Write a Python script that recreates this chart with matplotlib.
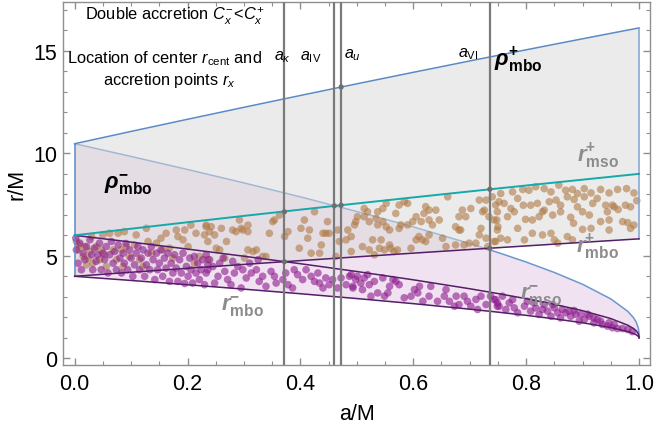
import matplotlib
matplotlib.use("Agg")
import matplotlib.pyplot as plt
from matplotlib.ticker import MultipleLocator

plt.rcParams['font.family'] = ['Liberation Sans', 'DejaVu Sans']
plt.rcParams['mathtext.fontset'] = 'custom'
plt.rcParams['mathtext.rm'] = 'Liberation Sans'
plt.rcParams['mathtext.it'] = 'Liberation Sans:italic'
plt.rcParams['mathtext.bf'] = 'Liberation Sans:bold'
try:
    plt.rcParams['mathtext.bfit'] = 'Liberation Sans:bold:italic'
except Exception:
    pass

# ---------------- data ----------------
spin = [0, .1, .2, .3, .4, .5, .6, .7, .75, .8, .85, .9, .95, .98, .99, .995, .999, .9999, 1]
r_mbo_minus = [4.0, 3.797, 3.589, 3.373, 3.149, 2.914, 2.665, 2.395, 2.25, 2.094, 1.925, 1.732,
               1.497, 1.303, 1.21, 1.146, 1.064, 1.020, 1.0]
r_mbo_plus = [4.0, 4.198, 4.391, 4.580, 4.766, 4.949, 5.130, 5.308, 5.396, 5.483, 5.570, 5.657,
              5.743, 5.794, 5.811, 5.820, 5.827, 5.828, 5.828]
r_mso_minus = [6.0, 5.670, 5.329, 4.979, 4.614, 4.233, 3.829, 3.393, 3.158, 2.907, 2.633, 2.321,
               1.937, 1.614, 1.455, 1.341, 1.182, 1.079, 1.0]
r_mso_plus = [6.0, 6.323, 6.639, 6.949, 7.254, 7.555, 7.851, 8.143, 8.288, 8.432, 8.575, 8.717,
              8.859, 8.944, 8.972, 8.986, 8.997, 9.0, 9.0]
rho_mbo_minus = [10.472, 9.85, 9.214, 8.558, 7.877, 7.164, 6.412, 5.600, 5.163, 4.697, 4.187, 3.61,
                 2.897, 2.292, 1.99, 1.77, 1.452, 1.23, 1.0]
rho_mbo_plus = [10.472, 11.073, 11.665, 12.250, 12.827, 13.396, 13.957, 14.511, 14.785, 15.056,
                15.326, 15.594, 15.860, 16.019, 16.071, 16.098, 16.119, 16.124, 16.124]

# special spins (vertical lines) and their labels
special_a = [0.3717, 0.4602, 0.4722, 0.7357]
special_lbl = [r"$a_\kappa$", r"$a_{\mathrm{IV}}$", r"$a_u$", r"$a_{\mathrm{VI}}$"]
# marked points on the curves
mark_a = [0.3717, 0.3717, 0.4602, 0.4722, 0.4722, 0.7357, 0.7357]
mark_r = [4.71, 7.15, 7.44, 7.47, 13.24, 8.25, 5.37]

# accretion points, counter-rotating (brown)
brown_a = [0.755, 0.776, 0.794, 0.805, 0.817, 0.832, 0.844, 0.858, 0.870, 0.882, 0.891, 0.903, 0.915,
           0.932, 0.947, 0.962, 0.978, 0.991, 0.752, 0.761, 0.773, 0.785, 0.795, 0.808, 0.820, 0.829,
           0.841, 0.853, 0.861, 0.873, 0.885, 0.891, 0.903, 0.918, 0.926, 0.941, 0.953, 0.963, 0.976,
           0.985, 0.996, 0.749, 0.748, 0.767, 0.779, 0.799, 0.811, 0.823, 0.832, 0.847, 0.861, 0.879,
           0.884, 0.900, 0.912, 0.932, 0.944, 0.947, 0.956, 0.971, 0.980, 0.991, 0.750, 0.755, 0.746,
           0.767, 0.785, 0.797, 0.811, 0.829, 0.844, 0.850, 0.856, 0.873, 0.882, 0.900, 0.915, 0.947,
           0.985,
           0.513, 0.519, 0.537, 0.546, 0.552, 0.575, 0.584, 0.590, 0.622, 0.628, 0.640, 0.661, 0.687,
           0.702, 0.717, 0.726, 0.729, 0.740, 0.746, 0.498, 0.501, 0.513, 0.522, 0.534, 0.537, 0.546,
           0.552, 0.558, 0.569, 0.575, 0.578, 0.590, 0.599, 0.605, 0.614, 0.619, 0.628, 0.634, 0.646,
           0.675, 0.681, 0.681, 0.693, 0.720, 0.723, 0.734, 0.743, 0.490, 0.496, 0.510, 0.522, 0.528,
           0.531, 0.540, 0.543, 0.549, 0.558, 0.560, 0.566, 0.572, 0.596, 0.605, 0.610, 0.616, 0.622,
           0.628, 0.652, 0.658, 0.675, 0.684, 0.690, 0.699, 0.711, 0.717, 0.729, 0.732, 0.743, 0.749,
           0.233, 0.239, 0.242, 0.248, 0.251, 0.260, 0.269, 0.280, 0.286, 0.292, 0.295, 0.298, 0.307,
           0.307, 0.316, 0.322, 0.333, 0.339, 0.345, 0.351, 0.354, 0.363, 0.372, 0.378, 0.398, 0.401,
           0.407, 0.413, 0.416, 0.419, 0.425, 0.434, 0.437, 0.440, 0.445, 0.448, 0.451, 0.463, 0.466,
           0.469, 0.481, 0.484, 0.490, 0.236, 0.266, 0.301, 0.307, 0.257,
           0.003, 0.006, 0.009, 0.015, 0.018, 0.024, 0.027, 0.030, 0.038, 0.044, 0.050, 0.053, 0.056,
           0.062, 0.068, 0.074, 0.077, 0.083, 0.086, 0.091, 0.097, 0.106, 0.115, 0.121, 0.130, 0.136,
           0.145, 0.153, 0.156, 0.168, 0.174, 0.180, 0.183, 0.192, 0.201, 0.206, 0.212, 0.215, 0.221,
           0.230, 0.233, 0.236, 0.021, 0.047, 0.109, 0.088, 0.127, 0.162, 0.195, 0.032]
brown_r = [8.04, 8.12, 8.24, 8.20, 8.37, 8.28, 8.12, 8.45, 8.20, 8.24, 8.04, 8.28, 8.07,
           8.24, 8.07, 8.24, 8.28, 8.07, 7.64, 7.56, 7.31, 7.80, 7.47, 7.47, 7.56, 7.15,
           7.64, 7.72, 7.47, 7.88, 7.75, 7.39, 7.88, 7.56, 7.80, 7.47, 7.47, 7.26, 7.47,
           7.39, 7.69, 7.15, 6.75, 6.91, 7.15, 6.78, 6.75, 6.91, 7.23, 6.99, 7.15, 6.88,
           6.59, 7.15, 6.99, 6.67, 7.15, 6.75, 7.39, 6.67, 6.62, 6.50, 6.42, 5.86, 5.70,
           5.78, 6.34, 5.78, 6.10, 6.02, 6.10, 5.78, 5.62, 5.94, 5.78, 6.29, 6.34, 6.26,
           6.34,
           7.31, 7.15, 7.15, 7.31, 7.56, 7.48, 7.64, 7.56, 7.40, 7.23, 7.23, 7.88, 7.23,
           7.31, 7.72, 7.23, 7.72, 7.88, 7.48, 6.67, 6.91, 6.91, 6.67, 6.83, 6.51, 6.67,
           6.42, 6.26, 7.07, 6.34, 6.51, 6.51, 6.67, 6.91, 6.67, 7.07, 6.75, 6.51, 6.75,
           6.42, 6.26, 6.91, 6.91, 6.34, 7.15, 6.91, 6.75, 5.94, 6.51, 5.45, 5.29, 5.78,
           5.05, 5.37, 5.78, 5.29, 5.53, 5.37, 5.21, 5.29, 5.37, 5.78, 5.94, 5.78, 5.70,
           6.02, 5.86, 5.45, 5.53, 6.26, 5.53, 5.62, 5.62, 6.02, 5.86, 5.45, 5.70, 6.26,
           6.50, 6.18, 6.42, 6.02, 5.37, 6.34, 5.70, 6.26, 6.18, 6.75, 6.34, 6.26, 6.50,
           6.18, 5.21, 5.29, 4.97, 4.97, 6.10, 6.67, 6.75, 6.99, 5.94, 6.18, 5.37, 6.34,
           6.75, 5.86, 6.26, 5.13, 7.15, 5.13, 5.53, 6.10, 6.10, 6.67, 6.10, 4.97, 6.26,
           5.70, 5.78, 6.26, 5.21, 4.81, 4.89, 4.89, 5.29, 5.29,
           5.70, 5.29, 5.53, 4.97, 5.45, 4.89, 5.21, 5.94, 5.45, 4.81, 6.02, 5.05, 4.48,
           6.10, 5.29, 4.81, 6.10, 5.29, 4.48, 5.45, 4.97, 5.53, 4.81, 4.48, 5.70, 5.13,
           5.62, 5.86, 5.29, 5.37, 4.89, 6.26, 5.94, 5.78, 5.45, 6.50, 4.64, 6.10, 4.97,
           6.02, 6.42, 5.70, 4.56, 5.29, 6.02, 6.18, 6.34, 6.10, 6.26, 4.64]

# accretion points, co-rotating (purple)
purple_a = [0.746, 0.752, 0.758, 0.764, 0.770, 0.779, 0.785, 0.797, 0.802, 0.808, 0.817, 0.823, 0.832,
            0.838, 0.844, 0.850, 0.856, 0.861, 0.870, 0.879, 0.888, 0.894, 0.903, 0.912, 0.920, 0.926,
            0.935, 0.944, 0.953, 0.962, 0.971, 0.980, 0.988, 0.776, 0.814, 0.829, 0.847, 0.864, 0.876,
            0.885, 0.897, 0.909, 0.920, 0.932, 0.947, 0.956, 0.749,
            0.490, 0.493, 0.498, 0.501, 0.507, 0.510, 0.513, 0.519, 0.522, 0.525, 0.531, 0.537, 0.546,
            0.549, 0.555, 0.558, 0.564, 0.569, 0.575, 0.584, 0.596, 0.602, 0.608, 0.611, 0.617, 0.628,
            0.631, 0.643, 0.655, 0.658, 0.664, 0.673, 0.676, 0.681, 0.690, 0.696, 0.702, 0.711, 0.714,
            0.720, 0.729, 0.737, 0.743, 0.749,
            0.233, 0.239, 0.236, 0.245, 0.254, 0.257, 0.263, 0.266, 0.271, 0.277, 0.283, 0.289, 0.298,
            0.304, 0.310, 0.313, 0.322, 0.327, 0.333, 0.339, 0.348, 0.354, 0.357, 0.369, 0.374, 0.378,
            0.386, 0.389, 0.395, 0.404, 0.410, 0.419, 0.425, 0.431, 0.434, 0.440, 0.445, 0.451, 0.457,
            0.466, 0.472, 0.481, 0.487, 0.493, 0.280, 0.325, 0.248, 0.295,
            0.002, 0.003, 0.006, 0.009, 0.012, 0.015, 0.018, 0.021, 0.027, 0.030, 0.032, 0.035, 0.038,
            0.041, 0.044, 0.047, 0.050, 0.053, 0.056, 0.059, 0.062, 0.065, 0.068, 0.071, 0.074, 0.077,
            0.080, 0.083, 0.086, 0.088, 0.091, 0.094, 0.097, 0.100, 0.103, 0.106, 0.109, 0.112, 0.115,
            0.118, 0.121, 0.124, 0.127, 0.130, 0.133, 0.136, 0.139, 0.142, 0.145, 0.147, 0.150, 0.153,
            0.156, 0.159, 0.162, 0.165, 0.168, 0.171, 0.174, 0.177, 0.180, 0.183, 0.186, 0.189, 0.192,
            0.195, 0.198, 0.201, 0.204, 0.206, 0.209, 0.212, 0.215, 0.218, 0.221, 0.224, 0.227, 0.230,
            0.233, 0.236]
purple_r = [2.86, 2.54, 3.03, 2.38, 2.70, 2.46, 2.22, 2.54, 2.78, 2.30, 2.46, 2.14, 2.62,
            2.30, 2.05, 2.46, 2.22, 1.97, 2.22, 2.05, 2.14, 1.81, 1.89, 2.05, 1.73, 1.89,
            1.65, 1.57, 1.49, 1.45, 1.45, 1.40, 1.30, 2.86, 2.70, 2.38, 2.62, 2.38, 2.30,
            2.33, 2.14, 2.15, 1.97, 1.81, 1.73, 1.65, 2.70,
            4.08, 3.43, 3.84, 4.00, 3.67, 3.35, 3.92, 4.08, 3.59, 3.03, 3.75, 3.19, 3.92,
            3.03, 3.19, 3.51, 3.84, 3.75, 3.59, 2.95, 3.03, 3.35, 3.19, 3.51, 2.78, 3.03,
            3.51, 2.78, 3.03, 3.35, 2.78, 2.54, 3.03, 2.62, 3.03, 2.78, 2.54, 2.87, 2.38,
            3.03, 2.62, 3.03, 2.87, 2.54,
            5.05, 4.81, 4.32, 4.48, 4.00, 4.64, 4.89, 4.24, 3.84, 3.59, 4.16, 4.48, 4.32,
            3.92, 4.64, 4.16, 4.32, 3.75, 4.00, 3.51, 4.24, 4.00, 3.67, 3.84, 4.16, 3.59,
            3.43, 4.32, 4.08, 3.84, 4.32, 4.00, 3.75, 4.16, 3.67, 3.43, 3.92, 3.59, 3.84,
            3.43, 3.92, 3.59, 4.00, 3.51, 4.73, 4.81, 3.67, 3.43,
            5.86, 5.29, 4.64, 5.62, 4.32, 5.13, 4.81, 5.45, 5.78, 5.05, 4.32, 5.37, 4.73,
            5.05, 5.62, 4.32, 5.13, 4.81, 5.45, 4.16, 5.05, 5.70, 4.64, 5.21, 4.32, 5.53,
            4.89, 4.16, 5.13, 4.64, 5.60, 4.32, 5.29, 4.89, 4.00, 4.56, 5.13, 5.45, 4.32,
            4.89, 5.29, 4.00, 4.56, 5.13, 4.32, 5.45, 4.81, 3.84, 5.13, 4.32, 4.64, 5.29,
            4.00, 4.89, 4.40, 5.13, 3.75, 4.64, 4.16, 5.05, 4.40, 3.75, 4.81, 4.16, 5.13,
            3.65, 4.48, 4.00, 4.89, 4.32, 3.67, 4.97, 4.16, 4.64, 3.84, 4.32, 4.81, 3.59,
            4.16, 4.56]

# ---------------- figure ----------------
fig = plt.figure(figsize=(6.55, 4.35), dpi=100)
ax = fig.add_axes([63 / 655, 1 - 366 / 435, (650 - 63) / 655, (366 - 3) / 435])

pink = '#f1e2f1'
ax.fill_between(spin, r_mbo_minus, rho_mbo_minus, color=pink, lw=0, zorder=1)
ax.plot(spin, rho_mbo_minus, color='#6b98cc', lw=1.1, zorder=1.5)
ax.fill_between(spin, r_mbo_plus, rho_mbo_plus, color='#d9d9d9', alpha=0.5, lw=0, zorder=2)

ax.scatter(brown_a, brown_r, s=30, color='#b07a45', alpha=0.6, edgecolors='none', zorder=3)
ax.scatter(purple_a, purple_r, s=30, color='#8e1a8e', alpha=0.6, edgecolors='none', zorder=3)

blue = '#5b8ac4'
ax.plot(spin, rho_mbo_plus, color=blue, lw=1.1, zorder=4)
ax.plot([spin[0], spin[0]], [r_mbo_minus[0], rho_mbo_minus[0]], color=blue, lw=1.1, zorder=4)
ax.plot([spin[-1], spin[-1]], [r_mbo_plus[-1], rho_mbo_plus[-1]], color='#7fa3d3', lw=1.1, zorder=4)

purple_line = '#561d68'
ax.plot(spin, r_mbo_minus, color=purple_line, lw=1.1, zorder=4)
ax.plot(spin, r_mbo_plus, color=purple_line, lw=1.1, zorder=4)
ax.plot(spin, r_mso_minus, color=purple_line, lw=1.1, zorder=4)
ax.plot(spin, r_mso_plus, color='#17a9a9', lw=1.4, zorder=4)

for xa in special_a:
    ax.axvline(xa, color='#7a7a7a', lw=1.6, zorder=5)
ax.scatter(mark_a, mark_r, s=14, color='#6e6e6e', zorder=6, edgecolors='none')

# label texts
lab_y = [14.76, 14.76, 14.85, 14.9]
lab_x = [0.368, 0.418, 0.493, 0.698]
for lx, ly, t in zip(lab_x, lab_y, special_lbl):
    ax.text(lx, ly, t, fontsize=11.5, ha='center', va='center', zorder=7)

ax.text(0.178, 16.72, r"Double accretion $C_x^{-}\!<\!C_x^{+}$", fontsize=11.8,
        ha='center', va='center', zorder=7)
ax.text(0.159, 14.66, r"Location of center $r_{\mathrm{cent}}$ and", fontsize=11.8,
        ha='center', va='center', zorder=7)
ax.text(0.167, 13.62, r"accretion points $r_x$", fontsize=11.8,
        ha='center', va='center', zorder=7)

ax.text(0.786, 14.6, r"$\mathbfit{\rho}^{\mathbf{+}}_{\mathbf{mbo}}$", fontsize=16,
        ha='center', va='center', zorder=7)
ax.text(0.094, 8.5, r"$\mathbfit{\rho}^{\mathbf{-}}_{\mathbf{mbo}}$", fontsize=16,
        ha='center', va='center', zorder=7)

gcol = '#8c8c8c'
ax.text(0.927, 9.9, r"$\mathbfit{r}^{\mathbf{+}}_{\mathbf{mso}}$", fontsize=16, color=gcol,
        ha='center', va='center', zorder=7)
ax.text(0.927, 5.45, r"$\mathbfit{r}^{\mathbf{+}}_{\mathbf{mbo}}$", fontsize=16, color=gcol,
        ha='center', va='center', zorder=7)
ax.text(0.827, 3.1, r"$\mathbfit{r}^{\mathbf{-}}_{\mathbf{mso}}$", fontsize=16, color=gcol,
        ha='center', va='center', zorder=7)
ax.text(0.297, 2.57, r"$\mathbfit{r}^{\mathbf{-}}_{\mathbf{mbo}}$", fontsize=16, color=gcol,
        ha='center', va='center', zorder=7)

# axes styling
ax.set_xlim(-0.0207, 1.0195)
ax.set_ylim(-0.33, 17.39)
ax.xaxis.set_major_locator(MultipleLocator(0.2))
ax.xaxis.set_minor_locator(MultipleLocator(0.05))
ax.yaxis.set_major_locator(MultipleLocator(5))
ax.yaxis.set_minor_locator(MultipleLocator(1))
ax.xaxis.set_major_formatter(matplotlib.ticker.FormatStrFormatter('%.1f'))
for sp in ax.spines.values():
    sp.set_color('#8f8f8f')
    sp.set_linewidth(1.0)
ax.tick_params(which='both', direction='in', top=True, right=True, color='#8f8f8f',
               labelsize=15.5, labelcolor='black')
ax.tick_params(which='major', length=5, width=1)
ax.tick_params(which='minor', length=3, width=0.8)
ax.tick_params(axis='x', pad=6)
ax.tick_params(axis='y', pad=4)
ax.set_xlabel("a/M", fontsize=15.5, labelpad=6)
ax.set_ylabel("r/M", fontsize=15.5, labelpad=4)

fig.savefig("out.png", dpi=100)
